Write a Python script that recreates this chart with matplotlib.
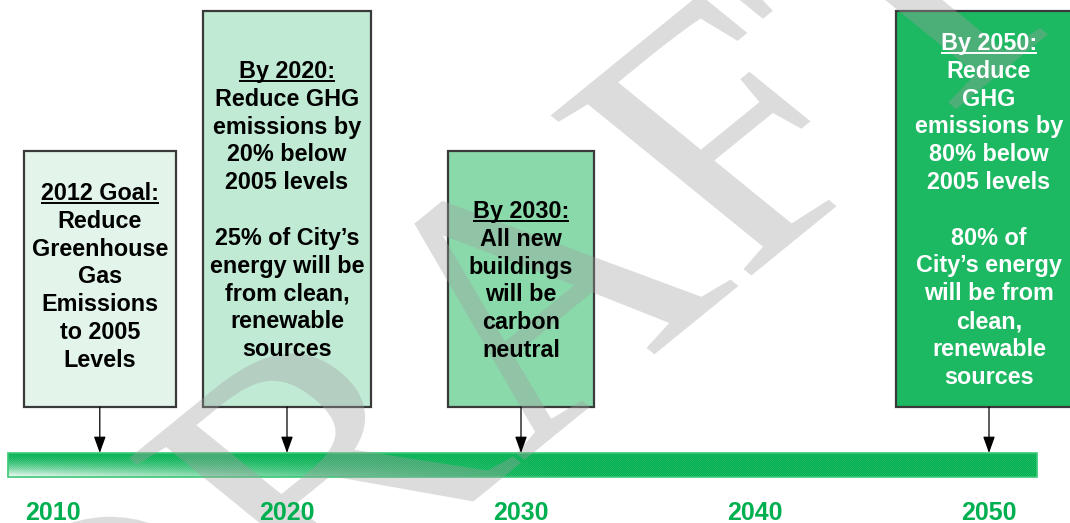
import numpy as np
import matplotlib
matplotlib.use("Agg")
import matplotlib.pyplot as plt
from matplotlib.patches import Rectangle, PathPatch
from matplotlib.textpath import TextPath
from matplotlib.font_manager import FontProperties
from matplotlib.transforms import Affine2D

# timeline data
axis_years = [2010, 2020, 2030, 2040, 2050]
goal_years = [2012, 2020, 2030, 2050]
goal_titles = ["2012 Goal:", "By 2020:", "By 2030:", "By 2050:"]
goal_lines = [
    ["Reduce", "Greenhouse", "Gas", "Emissions", "to 2005", "Levels"],
    ["Reduce GHG", "emissions by", "20% below", "2005 levels", "",
     "25% of City\u2019s", "energy will be", "from clean,", "renewable", "sources"],
    ["All new", "buildings", "will be", "carbon", "neutral"],
    ["Reduce", "GHG", "emissions by", "80% below", "2005 levels", "",
     "80% of", "City\u2019s energy", "will be from", "clean,", "renewable", "sources"],
]

# look of each box (fill, text colour, half width in years, top px, first line px)
box_fill = ["#e3f5ea", "#c0ead4", "#8ad9aa", "#1db862"]
box_textc = ["black", "black", "black", "white"]
box_half = [3.25, 3.57, 3.14, 3.97]
box_top = [151, 11, 151, 11]
first_line = [192, 70, 210, 42]
box_bottom = 407
line_gap = 27.8

green = "#00b050"
px_per_year = 23.4
x_left = 2010 - 53 / px_per_year

fig = plt.figure(figsize=(10.7, 5.23), dpi=100)
ax = fig.add_axes([0, 0, 1, 1])
ax.set_xlim(x_left, x_left + 1070 / px_per_year)
ax.set_ylim(523, 0)
ax.axis("off")

# timeline bar with a light-to-green gradient
bar_x0 = x_left + 8 / px_per_year
bar_x1 = x_left + 1037 / px_per_year
h, w = 24, 1029
yy, xx = np.mgrid[0:h, 0:w]
yf = yy / (h - 1)
xf = xx / (w - 1)
light = (yf ** 1.6) * np.clip(1 - xf / 0.55, 0, 1) ** 1.2 * 0.95
light = light + 0.12 * ((xx + yy) % 2) * (1 - light)
g = np.array([0, 176, 80]) / 255.0
img = g[None, None, :] * (1 - light[..., None]) + light[..., None]
ax.imshow(img, extent=(bar_x0, bar_x1, 477, 453), aspect="auto",
          interpolation="nearest", zorder=2)
ax.add_patch(Rectangle((bar_x0, 453), bar_x1 - bar_x0, 24, fill=False,
                       edgecolor="#3cc878", lw=1.2, zorder=2))

# boxes and arrows down to the bar
for i, yr in enumerate(goal_years):
    ax.add_patch(Rectangle((yr - box_half[i], box_top[i]), 2 * box_half[i],
                           box_bottom - box_top[i], facecolor=box_fill[i],
                           edgecolor="#3a3a3a", lw=1.6, zorder=2))
    ax.annotate("", xy=(yr, 453), xytext=(yr, box_bottom),
                arrowprops=dict(arrowstyle="-|>,head_length=0.5,head_width=0.18",
                                mutation_scale=20, color="black", lw=0.9,
                                shrinkA=0, shrinkB=0), zorder=4)

# DRAFT watermark (pixel coords)
fp = FontProperties(family="Liberation Serif")
tp = TextPath((0, 0), "DRAFT", size=1, prop=fp)
tr = Affine2D().scale(349).rotate_deg(45).scale(1.23, 1).translate(99.8, -282.2)
ax.add_patch(PathPatch(tp, transform=tr, facecolor="#a0a0a0", edgecolor="none",
                       alpha=0.36, zorder=3))

# box texts
titles = []
for i, yr in enumerate(goal_years):
    t = ax.text(yr, first_line[i] + 8, goal_titles[i], ha="center", va="baseline",
                fontsize=16.8, fontweight="bold", color=box_textc[i],
                family="Liberation Sans", zorder=5)
    titles.append(t)
    for j, s in enumerate(goal_lines[i]):
        ax.text(yr, first_line[i] + 8 + (j + 1) * line_gap, s, ha="center",
                va="baseline", fontsize=16.8, fontweight="bold",
                color=box_textc[i], family="Liberation Sans", zorder=5)

# year labels
for yr in axis_years:
    ax.text(yr, 520, str(yr), ha="center", va="baseline", fontsize=18,
            fontweight="bold", color=green, family="Liberation Sans", zorder=5)

# underline the box titles
fig.canvas.draw()
renderer = fig.canvas.get_renderer()
inv = ax.transData.inverted()
for i, t in enumerate(titles):
    bb = t.get_window_extent(renderer)
    (x0, _), (x1, _) = inv.transform([(bb.x0, 0), (bb.x1, 0)])
    yb = first_line[i] + 8 + 3
    ax.plot([x0, x1], [yb, yb], color=box_textc[i], lw=1.4, zorder=5,
            solid_capstyle="butt")

fig.savefig("out.png", dpi=100)
